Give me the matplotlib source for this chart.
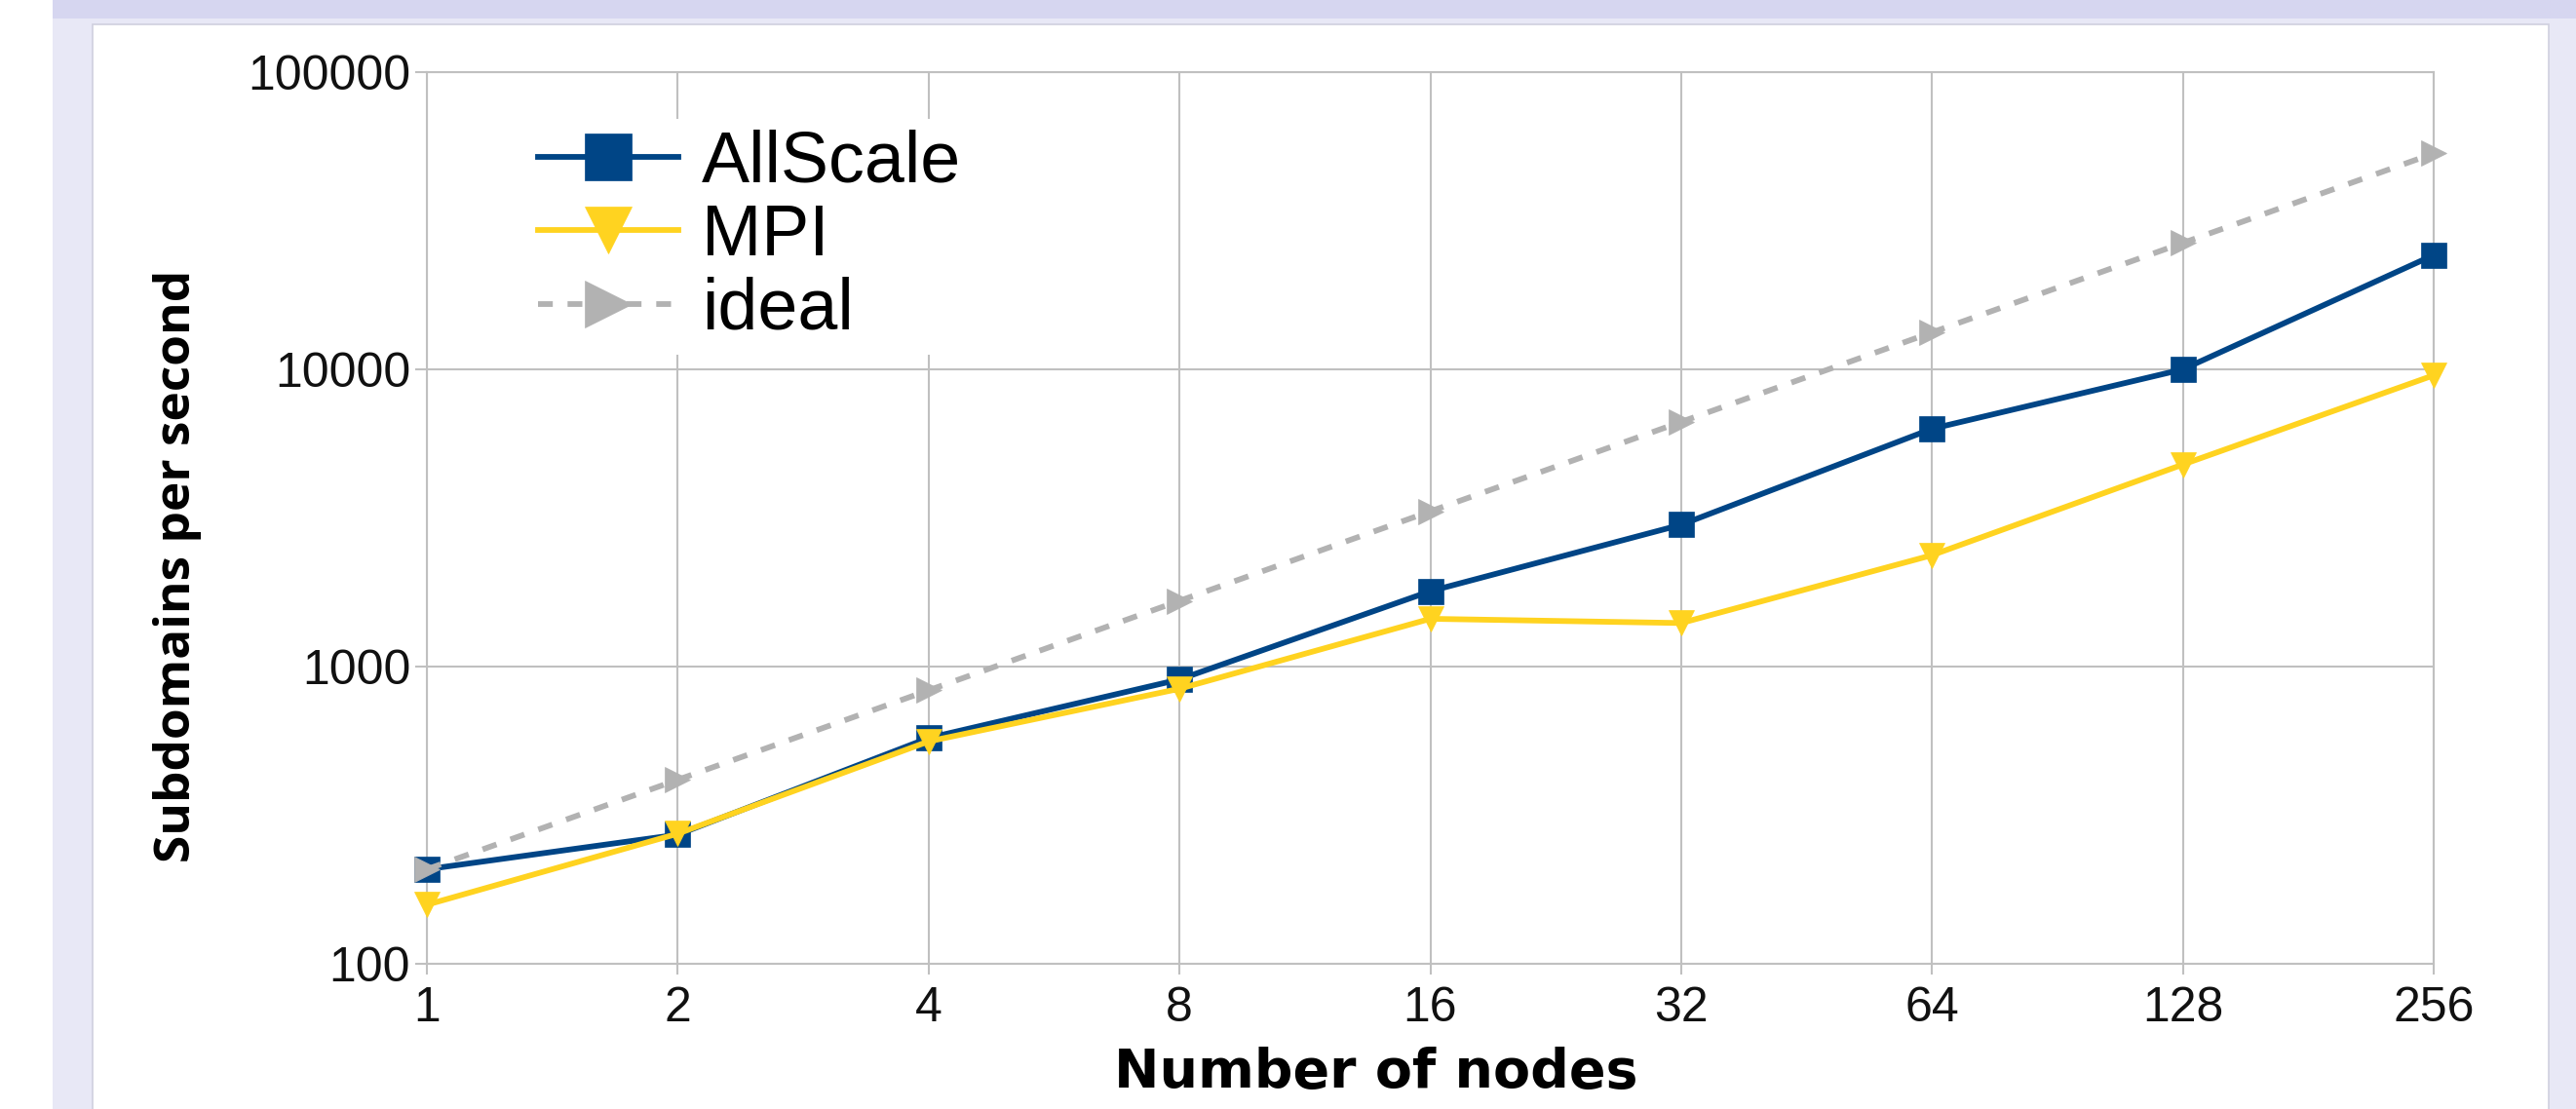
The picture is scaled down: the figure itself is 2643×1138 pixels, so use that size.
import matplotlib
matplotlib.use("Agg")
import matplotlib.pyplot as plt
from matplotlib.patches import Rectangle
from matplotlib.ticker import FixedLocator, FixedFormatter, NullLocator

# data
nodes = [1, 2, 4, 8, 16, 32, 64, 128, 256]
allscale = [208, 272, 575, 905, 1793, 3000, 6310, 10000, 24240]
mpi = [158, 274, 560, 842, 1448, 1401, 2370, 4784, 9550]
ideal = [208, 416, 832, 1664, 3328, 6656, 13312, 26624, 53248]
y_ticks = [100, 1000, 10000, 100000]

BLUE = "#004586"
YELLOW = "#ffd320"
GREY = "#b2b2b2"
GRID = "#c0c0c0"

W, H = 2643, 1138
fig = plt.figure(figsize=(W / 100, H / 100), dpi=100, facecolor="white")


def fr(x0, y0, x1, y1):
    """pixel box (top-left origin) -> figure fraction rect"""
    return (x0 / W, 1 - y1 / H), (x1 - x0) / W, (y1 - y0) / H


# page background: lavender frame with a white panel
for (x0, y0, x1, y1), fc, ec in [((54, 0, W, H), "#e8e8f6", "none"),
                                  ((54, 0, W, 19), "#d6d6f0", "none"),
                                  ((95, 25, 2615, H + 5), "white", "#cfcfdf")]:
    xy, w, h = fr(x0, y0, x1, y1)
    fig.patches.append(Rectangle(xy, w, h, transform=fig.transFigure,
                                 facecolor=fc, edgecolor=ec, lw=1.2, zorder=-10))

ax = fig.add_axes([438 / W, 1 - 989 / H, (2497 - 438) / W, (989 - 74) / H])
ax.set_facecolor("white")
ax.set_xscale("log", base=2)
ax.set_yscale("log")
ax.set_xlim(nodes[0], nodes[-1])
ax.set_ylim(y_ticks[0], y_ticks[-1])

line_kw = dict(lw=4.2, ms=19, clip_on=False, zorder=5)
ax.plot(nodes, allscale, color=BLUE, marker="s", mec=BLUE, mew=0.5, label="AllScale", **line_kw)
ax.plot(nodes, mpi, color=YELLOW, marker="v", mec=YELLOW, mew=0.5, label="MPI", **line_kw)
ax.plot(nodes, ideal, color=GREY, marker=">", mec=GREY, mew=0.5, ls=(0, (2.6, 2.6)), label="ideal", **line_kw)

ax.xaxis.set_major_locator(FixedLocator(nodes))
ax.xaxis.set_major_formatter(FixedFormatter([str(n) for n in nodes]))
ax.xaxis.set_minor_locator(NullLocator())
ax.yaxis.set_major_locator(FixedLocator(y_ticks))
ax.yaxis.set_major_formatter(FixedFormatter([str(v) for v in y_ticks]))
ax.yaxis.set_minor_locator(NullLocator())

ax.grid(True, color=GRID, lw=1.5)
ax.set_axisbelow(True)
for s in ax.spines.values():
    s.set_color(GRID)
    s.set_linewidth(1.5)

tick_font = dict(family="Liberation Sans", size=36)
ax.tick_params(axis="both", direction="out", color=GRID, width=1.5, labelcolor="#111111")
ax.tick_params(axis="y", length=8.6, pad=3.5)
ax.tick_params(axis="x", length=7.7, pad=9)
for lab in ax.get_xticklabels() + ax.get_yticklabels():
    lab.set_fontfamily(tick_font["family"])
    lab.set_fontsize(tick_font["size"])

leg = ax.legend(loc="upper left", bbox_to_anchor=(0.05, 0.948), borderaxespad=0,
                frameon=True, framealpha=1, facecolor="white", edgecolor="none", fancybox=False,
                prop=dict(family="Liberation Sans", size=53), markerscale=1.85,
                handlelength=1.95, handletextpad=0.33, labelspacing=0.09, borderpad=0.15)
leg.set_zorder(10)

fig.text(1412 / W, 1 - 1116 / H, "Number of nodes", ha="center", va="baseline",
         fontfamily="DejaVu Sans", fontweight="bold", fontsize=40)
fig.text(182 / W, 1 - 581 / H, "Subdomains per second", rotation=90, ha="center", va="center",
         fontfamily="Open Sans", fontweight="bold", fontsize=37)

fig.savefig("out.png", dpi=100, facecolor=fig.get_facecolor())
